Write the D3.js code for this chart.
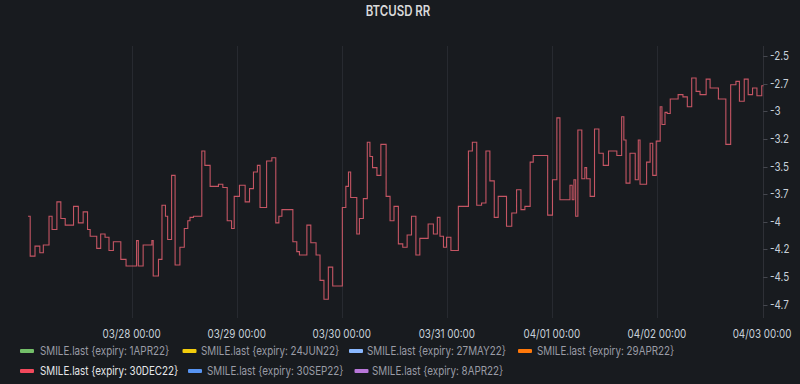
<!DOCTYPE html>
<html><head><meta charset="utf-8">
<script src="https://cdn.jsdelivr.net/npm/d3@7"></script>
<style>html,body{margin:0;padding:0;background:#181b1f;}svg{display:block}</style>
</head><body><svg id="c" width="800" height="384"></svg>
<script>
const title = "BTCUSD RR";
const startTime = Date.UTC(2022, 2, 27, 0, 20);
const endTime = Date.UTC(2022, 3, 3, 0, 20);
const hours = [0.0,0.5,1.6,2.7,3.5,4.8,5.5,6.6,7.5,8.5,10.4,11.5,12.6,13.6,14.2,15.7,16.6,17.6,18.5,19.5,
21.2,22.4,24.8,25.2,26.3,28.3,28.6,29.8,30.6,31.4,31.9,32.8,33.6,34.7,35.7,36.5,37.0,37.8,39.7,40.4,
41.6,43.5,44.5,45.5,46.5,47.1,48.3,49.6,50.6,51.5,52.4,53.0,54.5,55.7,56.6,57.3,58.0,60.5,61.4,62.0,
63.7,64.6,65.8,66.7,67.6,68.6,69.6,71.8,72.6,73.2,73.7,75.1,75.7,76.6,77.5,78.1,78.7,79.7,80.6,81.8,
82.7,83.6,84.6,85.6,86.6,87.6,88.6,89.5,91.4,92.6,93.5,94.1,94.9,95.6,96.6,98.3,100.6,101.5,102.5,103.6,
104.6,105.5,106.5,107.4,109.3,110.5,111.6,112.6,113.5,114.7,115.4,118.7,119.8,120.8,121.5,123.8,124.3,124.7,125.1,125.6,
126.5,127.2,127.6,128.4,129.4,130.4,131.4,132.6,134.5,135.6,136.1,136.6,137.5,138.7,139.4,139.8,141.3,142.1,142.7,143.5,
144.4,144.8,145.5,146.0,146.7,148.5,149.6,150.6,151.6,152.6,153.5,154.9,155.8,157.7,159.4,160.5,161.7,162.5,163.6,164.5,
165.5,166.5,167.6,168.0];
const values = [-3.95,-4.31,-4.22,-4.28,-4.21,-3.95,-4.07,-3.82,-3.97,-4.03,-3.86,-4.01,-3.91,-4.07,-4.13,-4.24,-4.11,-4.14,-4.26,-4.18,
-4.34,-4.40,-4.17,-4.40,-4.21,-4.17,-4.49,-4.34,-3.85,-3.95,-4.16,-3.58,-4.39,-4.23,-4.06,-3.99,-3.96,-3.95,-3.36,-3.49,
-3.68,-3.66,-3.69,-3.99,-4.06,-3.77,-3.67,-3.82,-3.70,-3.55,-3.49,-3.87,-3.45,-3.42,-4.01,-3.95,-3.89,-4.18,-4.27,-4.30,
-4.03,-4.19,-4.30,-4.53,-4.70,-4.41,-4.58,-3.87,-3.68,-3.55,-3.78,-4.11,-3.97,-3.79,-3.28,-3.41,-3.51,-3.58,-3.30,-3.77,
-3.99,-3.86,-4.20,-4.23,-4.12,-3.95,-4.30,-4.15,-4.02,-4.11,-3.96,-4.13,-4.23,-4.14,-4.26,-3.86,-3.36,-3.28,-3.85,-3.83,
-3.36,-3.63,-3.96,-3.77,-4.04,-3.92,-3.71,-3.89,-3.86,-3.46,-3.40,-3.94,-3.62,-3.06,-3.80,-3.67,-3.80,-3.62,-3.95,-3.17,
-3.61,-3.51,-3.61,-3.77,-3.16,-3.38,-3.49,-3.36,-3.40,-3.05,-3.26,-3.65,-3.38,-3.62,-3.26,-3.66,-3.46,-3.29,-3.58,-3.27,
-2.96,-3.12,-3.01,-3.02,-2.89,-2.85,-2.87,-2.96,-2.70,-2.82,-2.85,-2.71,-2.79,-2.89,-3.30,-2.76,-2.73,-2.91,-2.71,-2.85,
-2.79,-2.86,-2.77,-2.77];
const yTickValues = [-2.5,-2.75,-3,-3.25,-3.5,-3.75,-4,-4.25,-4.5,-4.75];
const yTickLabels = ["-2.5","-2.7","-3","-3.2","-3.5","-3.7","-4","-4.2","-4.5","-4.7"];
const legendNames = ["SMILE.last {expiry: 1APR22}","SMILE.last {expiry: 24JUN22}","SMILE.last {expiry: 27MAY22}","SMILE.last {expiry: 29APR22}",
  "SMILE.last {expiry: 30DEC22}","SMILE.last {expiry: 30SEP22}","SMILE.last {expiry: 8APR22}"];
const legendColors = ["#73bf69","#f2cc0c","#8ab8ff","#ff780a","#f2495c","#5794f2","#b877d9"];
const shownSeries = "SMILE.last {expiry: 30DEC22}";

const K = 0.82; // horizontal glyph compression of the reference
const svg = d3.select("#c");
const font = "Inter, 'Noto Sans', sans-serif";
const pLeft = 28, pRight = 763.5, pTop = 46, pBottom = 318;

const x = d3.scaleUtc().domain([startTime, endTime]).range([pLeft, pRight]);
const y = d3.scaleLinear().domain([-4.87, -2.41]).range([pBottom, pTop]);

function txt(g, px, py, s, opts) {
  return g.append("text")
    .attr("transform", `translate(${px},${py}) scale(${K},1)`)
    .attr("font-family", font)
    .attr("font-size", opts.size || 12)
    .attr("font-weight", opts.weight || 400)
    .attr("fill", opts.fill || "#ccccdc")
    .attr("text-anchor", opts.anchor || "start")
    .text(s);
}

// title
txt(svg, 398, 16, title, {size: 14, weight: 600, anchor: "middle", fill: "#d8d9da"});

// x grid + labels
const xTicks = x.ticks(d3.utcDay.every(1));
const fmt = d3.utcFormat("%m/%d %H:%M");
const gx = svg.append("g");
xTicks.forEach(t => {
  const px = Math.round(x(t)) + 0.5;
  if (px < pRight - 3) gx.append("line").attr("x1", px).attr("x2", px).attr("y1", pTop).attr("y2", pBottom)
    .attr("stroke", "rgba(204,204,220,0.09)");
  txt(gx, x(t), 338, fmt(t), {size: 12, anchor: "middle", fill: "#c7d0d9"});
});

// right axis
const gy = svg.append("g");
gy.append("line").attr("x1", 763.5).attr("x2", 763.5).attr("y1", pTop).attr("y2", pBottom)
  .attr("stroke", "rgba(204,204,220,0.12)");
yTickValues.forEach((v, i) => {
  const py = Math.round(y(v)) + 0.5;
  gy.append("line").attr("x1", 763.5).attr("x2", 767.5).attr("y1", py).attr("y2", py)
    .attr("stroke", "rgba(204,204,220,0.25)");
  txt(gy, 770, y(v) + 4, yTickLabels[i], {size: 12, fill: "#c7d0d9"});
});

// series line
const data = hours.map((h, i) => ({t: startTime + h * 3600000, v: values[i]}));
const line = d3.line().x(d => x(d.t)).y(d => y(d.v)).curve(d3.curveStepAfter);
svg.append("path").datum(data).attr("d", line)
  .attr("fill", "none").attr("stroke", "#e35f70").attr("stroke-width", 1.1)
  .attr("stroke-opacity", 0.85).attr("stroke-linejoin", "miter");

// legend
const legendPos = [[20, 40, 351],[182.5, 201, 351],[349, 367, 351],[518, 537, 351],
                   [20, 40, 371],[188, 207, 371],[354.5, 372, 371]];
const gl = svg.append("g");
legendNames.forEach((n, i) => {
  const [sx, tx, cy] = legendPos[i];
  gl.append("rect").attr("x", sx).attr("y", cy - 2).attr("width", 14).attr("height", 4).attr("rx", 1)
    .attr("fill", legendColors[i]);
  txt(gl, tx, cy + 4, n, {size: 12, fill: n === shownSeries ? "#e6e7ea" : "#9a9ca6"});
});
</script></body></html>
